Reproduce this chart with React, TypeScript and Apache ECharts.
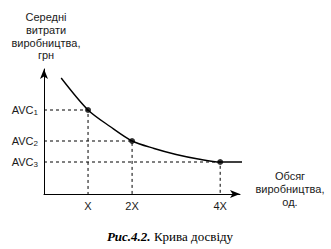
import React, { useEffect, useRef } from "react";
import * as echarts from "echarts";

// Quantities of output (in units of X) and matching average costs
const X_VALUES = [1, 2, 4];
const X_LABELS = ["X", "2X", "4X"];
const AVC_VALUES = [8.4, 5.3, 3.2];
const AVC_SUBS = ["1", "2", "3"];

// Points
const CURVE_X = [0.39, 1, 1.5, 2, 2.5, 3, 3.5, 4, 4.45, 4.84];
const CURVE_Y = [11.6, 8.4, 6.75, 5.3, 4.55, 3.95, 3.5, 3.2, 3.2, 3.2];

const Y_TITLE = "Середні\nвитрати\nвиробництва,\nгрн";
const X_TITLE = "Обсяг\nвиробництва,\nод.";
const CAPTION_BOLD = "Рис.4.2.";
const CAPTION_TEXT = "Крива досвіду";

const SANS = "'Liberation Sans', Arial, sans-serif";
const SERIF = "'Liberation Serif', 'Times New Roman', serif";

export default function App() {
  const ref = useRef<HTMLDivElement>(null);
  useEffect(() => {
    document.body.style.margin = "0";
    if (!ref.current) return;
    const chart = echarts.init(ref.current, null, { renderer: "svg" });

    const guideSeries = X_VALUES.map((x, i) => ({
      type: "line",
      data: [
        [0, AVC_VALUES[i]],
        [x, AVC_VALUES[i]],
        [x, 0],
      ],
      symbol: "none",
      lineStyle: { color: "#000", width: 1, type: [3, 3] },
      silent: true,
      z: 1,
    }));

    const axisLine = {
      show: true,
      symbol: ["none", "arrow"],
      symbolSize: [6, 10],
      lineStyle: { color: "#000", width: 1 },
    };

    chart.setOption({
      animation: false,
      backgroundColor: "#fff",
      grid: {
        left: 44,
        right: 91,
        top: 69,
        bottom: 55,
        containLabel: false,
        outerBoundsMode: "none",
      },
      xAxis: {
        type: "value",
        min: 0,
        max: 4.45,
        axisLine,
        splitLine: { show: false },
        axisTick: { show: false },
        axisLabel: {
          customValues: X_VALUES,
          formatter: (v: number) => X_LABELS[X_VALUES.indexOf(v)] ?? "",
          color: "#1a1a1a",
          fontFamily: SANS,
          fontSize: 11,
          margin: 6,
        },
      },
      yAxis: {
        type: "value",
        min: 0,
        max: 12.5,
        axisLine,
        splitLine: { show: false },
        axisTick: { show: false },
        axisLabel: {
          customValues: AVC_VALUES,
          formatter: (v: number) => {
            const i = AVC_VALUES.indexOf(v);
            return i >= 0 ? `{a|AVC}{s|${AVC_SUBS[i]}}` : "";
          },
          margin: 6,
          rich: {
            a: { color: "#1a1a1a", fontFamily: SANS, fontSize: 11 },
            s: {
              color: "#1a1a1a",
              fontFamily: SANS,
              fontSize: 8,
              verticalAlign: "bottom",
              padding: [5, 0, 0, 0],
            },
          },
        },
      },
      series: [
        ...guideSeries,
        {
          type: "line",
          data: CURVE_X.map((x, i) => [x, CURVE_Y[i]]),
          smooth: 0.3,
          symbol: "none",
          clip: false,
          lineStyle: { color: "#000", width: 1.4 },
          z: 3,
        },
        {
          type: "scatter",
          data: X_VALUES.map((x, i) => [x, AVC_VALUES[i]]),
          symbolSize: 6,
          itemStyle: { color: "#000" },
          z: 4,
        },
      ],
      graphic: [
        {
          type: "text",
          x: 46,
          y: 11,
          style: {
            text: Y_TITLE,
            fill: "#1a1a1a",
            font: `11px ${SANS}`,
            align: "center",
            lineHeight: 12.7,
          },
        },
        {
          type: "text",
          x: 290,
          y: 170,
          style: {
            text: X_TITLE,
            fill: "#1a1a1a",
            font: `11px ${SANS}`,
            align: "center",
            lineHeight: 12.7,
          },
        },
        {
          type: "text",
          x: 170,
          y: 230,
          style: {
            text: `{b|${CAPTION_BOLD}} {n|${CAPTION_TEXT}}`,
            align: "center",
            rich: {
              b: {
                fontFamily: SERIF,
                fontSize: 13,
                fontWeight: "bold",
                fontStyle: "italic",
                fill: "#000",
              },
              n: { fontFamily: SERIF, fontSize: 13, fill: "#000" },
            },
          },
        },
      ],
    });
    return () => chart.dispose();
  }, []);
  return <div ref={ref} style={{ width: 331, height: 249 }} />;
}
